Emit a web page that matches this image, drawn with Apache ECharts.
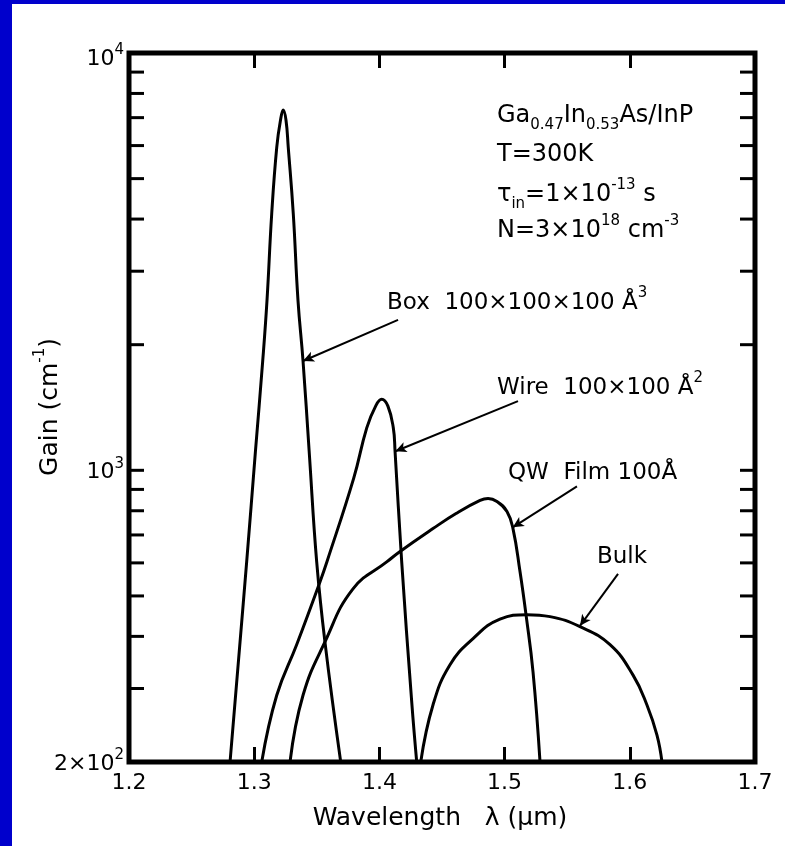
<!DOCTYPE html>
<html>
<head>
<meta charset="utf-8">
<script src="https://cdn.jsdelivr.net/npm/echarts@6/dist/echarts.min.js"></script>
<style>
html,body{margin:0;padding:0;background:#0000cc;width:785px;height:846px;overflow:hidden}
#main{position:absolute;left:12px;top:4px;width:773px;height:842px;background:#fff}
</style>
</head>
<body>
<div id="main"></div>
<script>
//数据：波长(um) 与 增益(cm^-1)
var boxCurve = [[1.2807,200],[1.2940,604],[1.3010,1111],[1.3068,1828],[1.3102,2548],[1.3140,4125],[1.3180,5943],
  [1.3210,6900],[1.3232,7300],[1.3254,6900],[1.3272,5943],[1.3312,4125],[1.3350,2548],[1.3390,1828],
  [1.3439,1111],[1.3499,604],[1.3565,388],[1.3691,200]];
var wireCurve = [[1.3060,200],[1.3180,289],[1.3339,382],[1.3526,541],[1.3581,604],[1.3795,958],[1.3899,1264],
  [1.3970,1425],[1.4018,1480],[1.4068,1425],[1.4111,1264],[1.4125,1111],[1.4178,604],[1.4258,279],[1.4298,200]];
var qwCurve = [[1.3286,200],[1.3390,289],[1.3565,388],[1.3789,520],[1.4061,604],[1.4165,639],[1.4428,725],
  [1.4612,788],[1.4804,847],[1.4868,856],[1.4939,842],[1.5019,797],[1.5067,725],[1.5123,572],
  [1.5171,451],[1.5227,329],[1.5283,200]];
var bulkCurve = [[1.4330,200],[1.4428,274],[1.4564,342],[1.4748,395],[1.4963,440],[1.5179,451],[1.5363,446],
  [1.5602,422],[1.5842,382],[1.6026,323],[1.6137,274],[1.6217,232],[1.6257,200]];

var xMin = 1.2, xMax = 1.7, xStep = 0.1;
var yMin = 200, yMax = 10000;
var yTickVals = [300,400,500,600,700,800,900,1000,2000,3000,4000,5000,6000,7000,8000,9000];
var yLabelVals = [200, 1000, 10000];
var yLabelText = ['2×10{s|2}', '10{s|3}', '10{s|4}'];

var FONT = 'DejaVu Sans';
var supStyle = {fontSize: 15, fontFamily: FONT, lineHeight: 12, verticalAlign: 'top', fill: '#000'};
var subStyle = {fontSize: 15, fontFamily: FONT, lineHeight: 14, verticalAlign: 'bottom', fill: '#000'};

var myChart = echarts.init(document.getElementById('main'));

function arrow(from, to) {
  return {
    silent: true,
    symbol: ['none', 'arrow'],
    symbolSize: [8, 11],
    label: {show: false},
    lineStyle: {color: '#000', width: 2, type: 'solid'},
    data: [[{coord: from}, {coord: to}]]
  };
}

function curve(name, data, mark) {
  return {
    name: name,
    type: 'line',
    data: data,
    symbol: 'none',
    smooth: 0.45,
    lineStyle: {color: '#000', width: 3, cap: 'round', join: 'round'},
    markLine: mark
  };
}

//文字注释
function note(x, y, text, size) {
  return {
    type: 'text', x: x, y: y, silent: true,
    style: {
      text: text, fill: '#000', fontSize: size || 23, fontFamily: FONT,
      lineHeight: 34, align: 'left', verticalAlign: 'middle',
      rich: {sup: supStyle, sub: subStyle}
    }
  };
}

var xAxisBase = {
  type: 'value',
  min: xMin,
  max: xMax,
  interval: xStep,
  axisLine: {show: false},
  axisTick: {inside: true, length: 15, lineStyle: {color: '#000', width: 3}},
  splitLine: {show: false}
};

var option = {
  animation: false,
  backgroundColor: '#fff',
  grid: {left: 117, top: 49, right: 30, bottom: 84, show: true, borderColor: '#000', borderWidth: 5},
  xAxis: [
    Object.assign({}, xAxisBase, {
      position: 'bottom',
      axisLabel: {color: '#000', fontSize: 22, fontFamily: FONT, margin: 10,
        formatter: function (v) { return v.toFixed(1); }}
    }),
    Object.assign({}, xAxisBase, {position: 'top', axisLabel: {show: false}})
  ],
  yAxis: {
    type: 'log', logBase: 10, min: yMin, max: yMax,
    axisLine: {show: false}, axisTick: {show: false},
    axisLabel: {show: false}, splitLine: {show: false}
  },
  series: [
    curve('Box', boxCurve, arrow([1.4149, 2294], [1.3390, 1828])),
    curve('Wire', wireCurve, arrow([1.5107, 1465], [1.4128, 1111])),
    curve('QW', qwCurve, arrow([1.5578, 915], [1.5065, 730])),
    curve('Bulk', bulkCurve, arrow([1.5906, 565], [1.5602, 424])),
    //y轴刻度(对数)
    {
      type: 'custom',
      clip: false,
      silent: true,
      data: yTickVals.map(function (v) { return [xMin, v]; }),
      renderItem: function (params, api) {
        var v = api.value(1);
        var l = api.coord([xMin, v]);
        var r = api.coord([xMax, v]);
        var ls = {stroke: '#000', lineWidth: 3};
        return {
          type: 'group',
          children: [
            {type: 'line', shape: {x1: l[0], y1: l[1], x2: l[0] + 15, y2: l[1]}, style: ls},
            {type: 'line', shape: {x1: r[0] - 15, y1: r[1], x2: r[0], y2: r[1]}, style: ls}
          ]
        };
      }
    },
    //y轴标签
    {
      type: 'custom',
      clip: false,
      silent: true,
      data: yLabelVals.map(function (v) { return [xMin, v]; }),
      renderItem: function (params, api) {
        var p = api.coord([xMin, api.value(1)]);
        return {
          type: 'text',
          x: p[0] - 5,
          y: p[1] + (params.dataIndex === 2 ? 6 : 2),
          style: {
            text: yLabelText[params.dataIndex], fill: '#000', fontSize: 22, fontFamily: FONT,
            lineHeight: 32, align: 'right', verticalAlign: 'middle',
            rich: {s: supStyle}
          }
        };
      }
    }
  ],
  graphic: [
    note(485, 112, 'Ga{sub|0.47}In{sub|0.53}As/InP', 24),
    note(485, 151, 'T=300K', 24),
    note(485, 191, 'τ{sub|in}=1×10{sup|-13} s', 24),
    note(485, 227, 'N=3×10{sup|18} cm{sup|-3}', 24),
    note(375, 299, 'Box  100×100×100 Å{sup|3}'),
    note(485, 384, 'Wire  100×100 Å{sup|2}'),
    note(496, 469, 'QW  Film 100Å'),
    note(585, 553, 'Bulk'),
    {
      type: 'text', x: 428, y: 814, silent: true,
      style: {text: 'Wavelength   λ (μm)', fill: '#000', fontSize: 25, fontFamily: FONT,
        align: 'center', verticalAlign: 'middle'}
    },
    {
      type: 'text', x: 38, y: 403, rotation: Math.PI / 2, silent: true,
      style: {text: 'Gain (cm{sup|-1})', fill: '#000', fontSize: 25, fontFamily: FONT,
        lineHeight: 34, align: 'center', verticalAlign: 'middle', rich: {sup: supStyle}}
    }
  ]
};

myChart.setOption(option);
window.addEventListener('resize', function () {
  myChart.resize();
});
</script>
</body>
</html>
